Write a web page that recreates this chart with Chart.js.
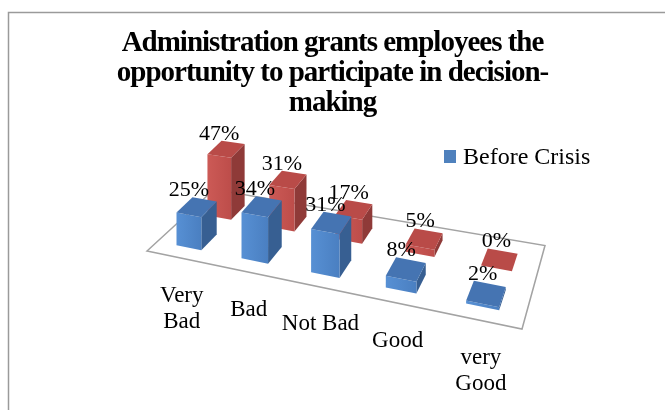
<!DOCTYPE html>
<html>
<head>
<meta charset="utf-8">
<script src="https://cdn.jsdelivr.net/npm/chart.js@4/dist/chart.umd.min.js"></script>
<style>
  html, body { margin: 0; padding: 0; background: #ffffff; }
  canvas { display: block; }
</style>
</head>
<body>
<canvas id="chart" width="665" height="410"></canvas>
<script>
// Survey answers, in percent
const categories = [['Very', 'Bad'], 'Bad', 'Not Bad', 'Good', ['very', 'Good']];
const seriesNames = ['Before Crisis', 'After Crisis'];
const beforeCrisis = [25, 34, 31, 8, 2];
const afterCrisis = [47, 31, 17, 5, 0];
const titleLines = ['Administration grants employees the', 'opportunity to participate in decision-', 'making'];

// ---- 3D scene settings ----
const FLOOR = { fl: [147, 251], fr: [522, 329], br: [545, 245.5], bl: [214, 189.5] };
const ROW_DEPTH = [[0.14, 0.37], [0.60, 0.83]];   // depth band of each series on the floor
const FULL_HEIGHT = 64.5;                         // box height in px for the y-scale maximum
const FONT = '"Liberation Serif", "Times New Roman", serif';
const FACE = [
  { front: ['#5790d4', '#4a7fc1'], side: '#375f92', top: '#4574b2' },
  { front: ['#cc5a56', '#bd4d4a'], side: '#8f3a38', top: '#b94b48' }
];

// projective map of the unit square (u across, v into depth) onto the floor quad
function floorMap(q) {
  const [x0, y0] = q.fl, [x1, y1] = q.fr, [x2, y2] = q.br, [x3, y3] = q.bl;
  const dx1 = x1 - x2, dx2 = x3 - x2, dx3 = x0 - x1 + x2 - x3;
  const dy1 = y1 - y2, dy2 = y3 - y2, dy3 = y0 - y1 + y2 - y3;
  const den = dx1 * dy2 - dx2 * dy1;
  const g = (dx3 * dy2 - dx2 * dy3) / den;
  const h = (dx1 * dy3 - dx3 * dy1) / den;
  const a = x1 - x0 + g * x1, b = x3 - x0 + h * x3;
  const d = y1 - y0 + g * y1, e = y3 - y0 + h * y3;
  return (u, v) => {
    const w = g * u + h * v + 1;
    return { x: (a * u + b * v + x0) / w, y: (d * u + e * v + y0) / w, k: 1 / (1 + g * u) };
  };
}
const P = floorMap(FLOOR);

function poly(ctx, pts, fill) {
  ctx.beginPath();
  ctx.moveTo(pts[0][0], pts[0][1]);
  for (let i = 1; i < pts.length; i++) ctx.lineTo(pts[i][0], pts[i][1]);
  ctx.closePath();
  ctx.fillStyle = fill;
  ctx.fill();
}

const scene3d = {
  id: 'scene3d',
  beforeDraw(chart) {
    const ctx = chart.ctx;
    ctx.save();
    ctx.strokeStyle = '#9a9a9a';
    ctx.lineWidth = 1.5;
    ctx.strokeRect(8.5, 12.5, 720, 480);
    ctx.restore();
    // tight, condensed title lettering
    if ('letterSpacing' in ctx) ctx.letterSpacing = '-1px';
  },
  beforeDatasetsDraw(chart) {
    const ctx = chart.ctx;
    const area = chart.chartArea;
    if ('letterSpacing' in ctx) ctx.letterSpacing = '0px';
    ctx.save();

    // floor outline
    ctx.beginPath();
    ['fl', 'fr', 'br', 'bl'].forEach((c, i) => {
      const p = FLOOR[c];
      i ? ctx.lineTo(p[0], p[1]) : ctx.moveTo(p[0], p[1]);
    });
    ctx.closePath();
    ctx.strokeStyle = '#a3a3a3';
    ctx.lineWidth = 1.5;
    ctx.stroke();

    const labels = [];
    // back row first, boxes from left to right
    for (let di = chart.data.datasets.length - 1; di >= 0; di--) {
      const meta = chart.getDatasetMeta(di);
      const [v0, v1] = ROW_DEPTH[di];
      const face = FACE[di];
      meta.data.forEach((el, i) => {
        const u0 = (el.x - el.width / 2 - area.left) / area.width;
        const u1 = (el.x + el.width / 2 - area.left) / area.width;
        const hpx = (el.base - el.y) / area.height * FULL_HEIGHT;
        const pt = (u, v, top) => {
          const p = P(u, v);
          return [p.x, p.y - (top ? hpx * p.k : 0)];
        };
        const A = pt(u0, v0, 0), B = pt(u1, v0, 0), C = pt(u1, v1, 0);
        const At = pt(u0, v0, 1), Bt = pt(u1, v0, 1), Ct = pt(u1, v1, 1), Dt = pt(u0, v1, 1);

        poly(ctx, [B, C, Ct, Bt], face.side);
        const grad = ctx.createLinearGradient(A[0], 0, B[0], 0);
        grad.addColorStop(0, face.front[0]);
        grad.addColorStop(1, face.front[1]);
        poly(ctx, [A, B, Bt, At], grad);
        poly(ctx, [At, Bt, Ct, Dt], face.top);

        const value = chart.data.datasets[di].data[i];
        labels.push({ text: value + '%', x: (A[0] + B[0]) / 2, y: Math.min(Dt[1], Ct[1]) - 1 });
      });
    }

    // value labels on top of every box
    ctx.fillStyle = '#000';
    ctx.font = '22px ' + FONT;
    ctx.textAlign = 'center';
    ctx.textBaseline = 'alphabetic';
    labels.forEach(l => ctx.fillText(l.text, l.x, l.y));

    // category labels along the front edge of the floor
    const xs = chart.scales.x;
    ctx.font = '23px ' + FONT;
    chart.data.labels.forEach((lab, i) => {
      const u = (xs.getPixelForValue(i) - area.left) / area.width;
      const p = P(u, 0);
      const lines = Array.isArray(lab) ? lab : [lab];
      lines.forEach((t, j) => ctx.fillText(t, p.x + 3, p.y + 44 + j * 26));
    });

    // legend: first series only
    const ds = chart.data.datasets[0];
    ctx.fillStyle = ds.backgroundColor;
    ctx.fillRect(444, 150, 12, 13);
    ctx.fillStyle = '#000';
    ctx.textAlign = 'left';
    ctx.font = '24px ' + FONT;
    ctx.fillText(ds.label, 463, 164);

    ctx.restore();
    return false;
  }
};

new Chart(document.getElementById('chart'), {
  type: 'bar',
  data: {
    labels: categories,
    datasets: [
      { label: seriesNames[0], data: beforeCrisis, backgroundColor: '#4f81bd' },
      { label: seriesNames[1], data: afterCrisis, backgroundColor: '#c0504d' }
    ]
  },
  options: {
    responsive: false,
    devicePixelRatio: 1,
    animation: false,
    events: [],
    layout: { padding: { left: 20, right: 20, top: 0, bottom: 20 } },
    datasets: { bar: { grouped: false, categoryPercentage: 1, barPercentage: 0.39 } },
    scales: {
      x: { display: false },
      y: { display: false, min: 0, max: 50 }
    },
    plugins: {
      legend: { display: false },
      tooltip: { enabled: false },
      title: {
        display: true,
        text: titleLines,
        color: '#000',
        font: { family: FONT, weight: 'bold', size: 29, lineHeight: 1.04 },
        padding: { top: 28, bottom: 10 }
      }
    }
  },
  plugins: [scene3d]
});
</script>
</body>
</html>
